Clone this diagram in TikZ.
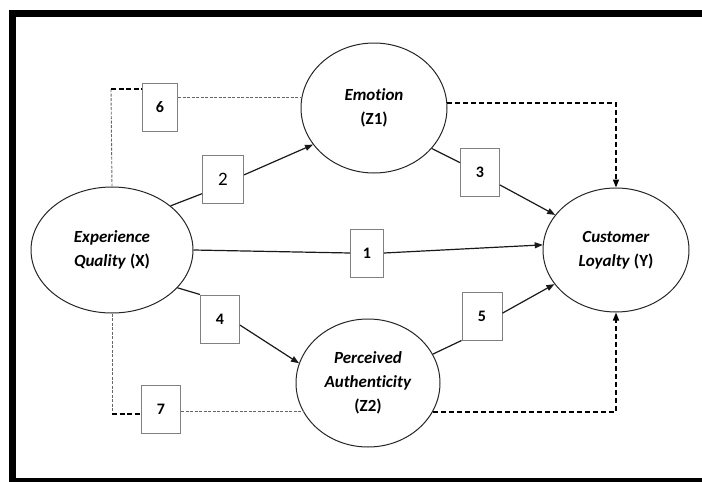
\documentclass[tikz,border=0pt]{standalone}
\usepackage{fontspec}
\setmainfont[Ligatures=NoCommon,RawFeature={-liga;-clig}]{Carlito}
\usetikzlibrary{shapes.geometric,arrows.meta,calc}
\tikzset{
  ell/.style={ellipse,draw=black!85,line width=1pt,inner sep=0pt,align=center,
    font=\fontsize{17}{24}\selectfont\bfseries},
  numbox/.style={rectangle,draw=black!50,line width=1pt,fill=white,inner sep=0pt,
    minimum width=38pt,minimum height=48pt,font=\fontsize{16}{18}\selectfont\bfseries},
  path/.style={line width=1.2pt,draw=black!90},
  arr/.style={path,-{Triangle[length=8pt,width=6pt]}},
  thindash/.style={draw=black!60,line width=0.9pt,dash pattern=on 3pt off 1.5pt},
  thickdash/.style={draw=black,line width=2.2pt,dash pattern=on 5pt off 2.5pt},
  effdash/.style={draw=black,line width=1.5pt,dash pattern=on 5pt off 3pt},
  effarr/.style={effdash,-{Triangle[length=8pt,width=6pt]}}
}
\begin{document}
\begin{tikzpicture}[x=1pt,y=-1pt]
\useasboundingbox (0,0) rectangle (702,482);
% frame
\fill[black] (9,10) rectangle (702,17);
\fill[black] (9,10) rectangle (16,482);
\fill[black] (9,478) rectangle (702,482);
% ellipses
\node[ell,minimum width=162pt,minimum height=126pt] (X) at (112,250) {\textit{Experience}\\\textit{Quality} (X)};
\node[ell,minimum width=146pt,minimum height=130pt] (Z1) at (374,108) {\textit{Emotion}\\(Z1)};
\node[ell,minimum width=144pt,minimum height=128pt] (Z2) at (368,383) {\textit{Perceived}\\\textit{Authenticity}\\(Z2)};
\node[ell,minimum width=146pt,minimum height=124pt] (Y) at (616,250) {\textit{Customer}\\\textit{Loyalty} (Y)};
% boxes
\node[numbox,minimum width=35pt] (b6) at (160,107) {6};
\node[numbox,minimum width=41pt,font=\fontsize{19}{20}\selectfont] (b2) at (223,179) {2};
\node[numbox,minimum width=39pt] (b3) at (480,172) {3};
\node[numbox,minimum width=33pt] (b1) at (367,253) {1};
\node[numbox,minimum width=39pt] (b4) at (220,319) {4};
\node[numbox,minimum width=39pt] (b7) at (161,409) {7};
\node[numbox,minimum width=40pt] (b5) at (482,316) {5};
% coordinates for dashed routes
\coordinate (c6) at (111,89);
\coordinate (c7) at (112,414);
% solid paths
\draw[path] (X.east) -- (b1.west);
\draw[arr] (b1.east) -- (Y.176);
\draw[path] (X.37) -- (b2.215);
\draw[arr] (b2.11) -- (Z1.211);
\draw[path] (Z1.-35) -- (b3.155);
\draw[arr] (b3.-33) -- (Y.150);
\draw[path] (X.-30) -- (b4.north west);
\draw[arr] (b4.-17) -- (Z2.164);
\draw[path] (Z2.24) -- (b5.south west);
\draw[arr] (b5.8) -- (Y.209);
% dashed paths
\draw[thindash] (X.north) -- (c6);
\draw[thickdash] (c6) -- (b6.west |- c6);
\draw[thindash] (b6.east |- Z1.172) -- (Z1.172);
\draw[thindash] (X.south) -- (c7);
\draw[thickdash] (c7) -- (b7.west |- c7);
\draw[thindash] (b7.east |- Z2.204) -- (Z2.204);
\draw[effarr] (Z1.4) -| (Y.north);
\draw[effarr] (Z2.-24) -| (Y.south);
\end{tikzpicture}
\end{document}
